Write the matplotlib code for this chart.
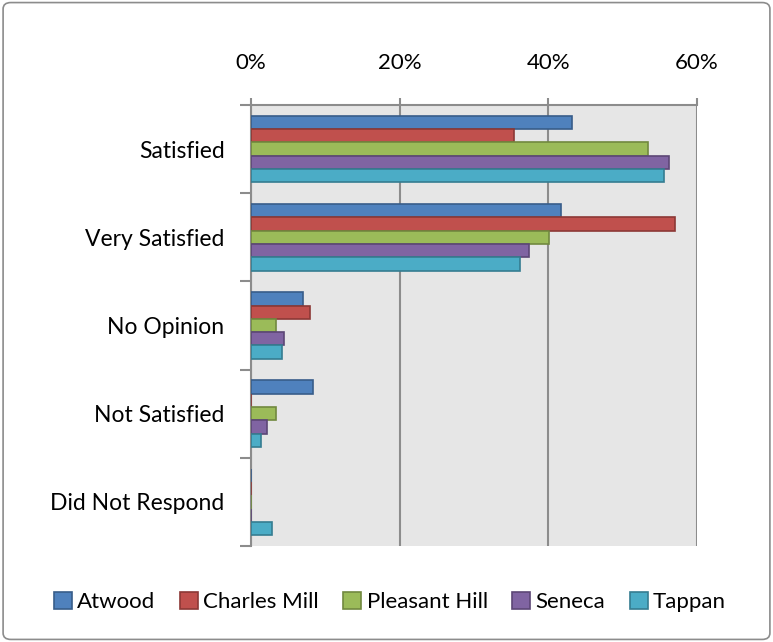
import matplotlib
matplotlib.use("Agg")
import matplotlib.pyplot as plt
from matplotlib.patches import FancyBboxPatch
from matplotlib.ticker import FuncFormatter, FixedLocator
import numpy as np

categories = ["Satisfied", "Very Satisfied", "No Opinion", "Not Satisfied", "Did Not Respond"]
series_names = ["Atwood", "Charles Mill", "Pleasant Hill", "Seneca", "Tappan"]
atwood = [43.2, 41.7, 7.0, 8.4, 0.0]
charles_mill = [35.4, 57.0, 7.9, 0.0, 0.0]
pleasant_hill = [53.4, 40.1, 3.4, 3.4, 0.0]
seneca = [56.2, 37.4, 4.4, 2.2, 0.0]
tappan = [55.6, 36.2, 4.2, 1.4, 2.8]
x_ticks = [0, 20, 40, 60]

values = [atwood, charles_mill, pleasant_hill, seneca, tappan]
colors = ["#4F81BD", "#C0504D", "#9BBB59", "#8064A2", "#4BACC6"]
edges = ["#385D8A", "#8C3836", "#71893F", "#5C4776", "#357D91"]

plt.rcParams['font.family'] = ['Lato', 'DejaVu Sans']

fig = plt.figure(figsize=(7.73, 6.42), dpi=100)
ax = fig.add_axes([251/773, 1-546/642, (697-251)/773, (546-105)/642])
ax.set_facecolor("#E6E6E6")

n = len(series_names)
bh = 0.151
y = np.arange(len(categories))
for i, (name, vals) in enumerate(zip(series_names, values)):
    offs = (i - (n - 1) / 2) * bh
    ax.barh(y + offs, vals, height=bh, color=colors[i], edgecolor=edges[i],
            linewidth=1.2, label=name, zorder=3)

ax.set_xlim(0, 60)
ax.set_ylim(len(categories) - 0.5, -0.5)

ax.xaxis.tick_top()
ax.set_xticks(x_ticks)
ax.xaxis.set_major_formatter(FuncFormatter(lambda v, p: f"{int(v)}%"))
ax.tick_params(axis='x', which='major', direction='out', length=5, width=1.5,
               color="#8C8C8C", labelsize=16, pad=18)
ax.grid(axis='x', color="#8C8C8C", linewidth=1.5, zorder=1)

ax.set_yticks(y)
ax.set_yticklabels(categories)
ax.yaxis.set_minor_locator(FixedLocator(np.arange(-0.5, len(categories), 1.0)))
ax.tick_params(axis='y', which='major', length=0, labelsize=16.5, pad=19)
ax.tick_params(axis='y', which='minor', direction='out', length=8, width=1.5, color="#8C8C8C")

for s in ['right', 'bottom']:
    ax.spines[s].set_visible(False)
for s in ['left', 'top']:
    ax.spines[s].set_color("#8C8C8C")
    ax.spines[s].set_linewidth(1.5)

leg = fig.legend(loc='center', bbox_to_anchor=(390/773, 1-602/642), ncol=5,
                 frameon=False, fontsize=16, handlelength=0.8, handleheight=0.8,
                 handletextpad=0.25, columnspacing=1.1)

border = FancyBboxPatch((0.004, 0.004), 0.992, 0.992, boxstyle="round,pad=0,rounding_size=0.01",
                        transform=fig.transFigure, facecolor='none', edgecolor="#8C8C8C",
                        linewidth=1.2)
fig.patches.append(border)

fig.savefig("out.png", dpi=100)
